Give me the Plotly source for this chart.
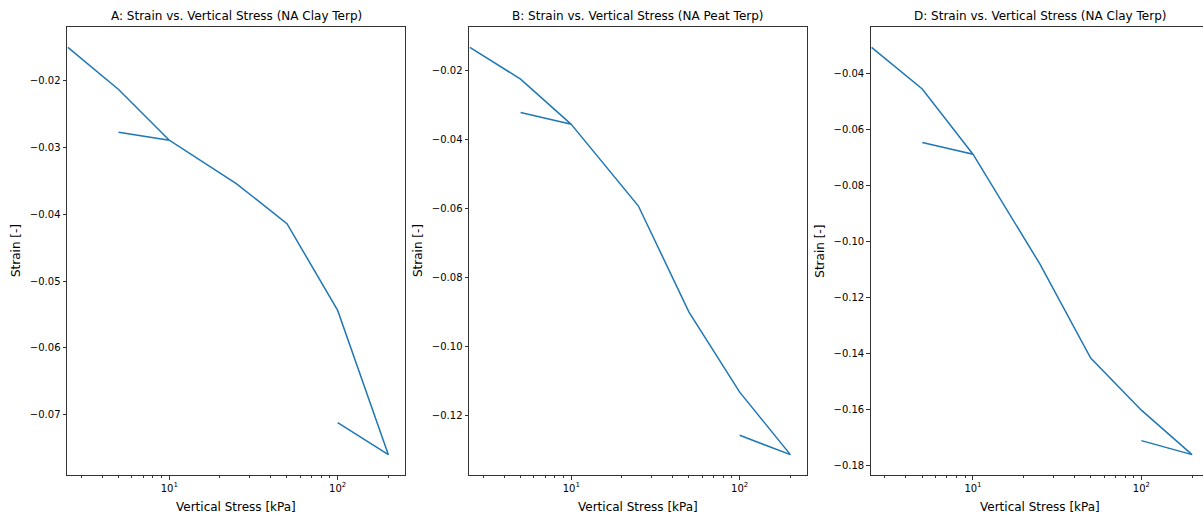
import math
import plotly.graph_objects as go

# ---- data ----
stress = [2.5, 5, 10, 5, 10, 25, 50, 100, 200, 100]  # kPa: load, unload/reload, load, unload

strain_A = [-0.0150, -0.0213, -0.0289, -0.0277, -0.0289, -0.0354, -0.0414, -0.0544, -0.0760, -0.0712]
strain_B = [-0.0133, -0.0225, -0.0356, -0.0322, -0.0356, -0.0592, -0.0900, -0.1132, -0.1313, -0.1257]
strain_D = [-0.0305, -0.0454, -0.0687, -0.0645, -0.0687, -0.1080, -0.1416, -0.1602, -0.1761, -0.1711]

titles = [
    "A: Strain vs. Vertical Stress (NA Clay Terp)",
    "B: Strain vs. Vertical Stress (NA Peat Terp)",
    "D: Strain vs. Vertical Stress (NA Clay Terp)",
]
series = [strain_A, strain_B, strain_D]
y_dticks = [0.01, 0.02, 0.02]

major_ticks = [10, 100]
major_text = ["10<sup>1</sup>", "10<sup>2</sup>"]
minor_ticks = [3, 4, 5, 6, 7, 8, 9, 20, 30, 40, 50, 60, 70, 80, 90, 200]

# ---- layout geometry (pixels) ----
W, H = 1203, 515
left_px = [67, 469, 870.7]
panel_w = 338
top_px, bot_px = 27, 475
px_per_decade = 168.4
x_lo = math.log10(2.47)

FONT = "DejaVu Sans"
BLUE = "#1f77b4"
AX = "#333333"

fig = go.Figure()
annotations = []
for i, (ys, title, dt) in enumerate(zip(series, titles, y_dticks)):
    n = "" if i == 0 else str(i + 1)
    x0 = left_px[i]
    x1 = min(x0 + panel_w, W)
    dom = [x0 / W, x1 / W]
    x_hi = x_lo + (x1 - x0) / px_per_decade
    ymin, ymax = min(ys), max(ys)
    span = ymax - ymin
    yr = [ymin - 0.05 * span, ymax + 0.05 * span]

    fig.add_trace(go.Scatter(
        x=stress, y=ys, mode="lines",
        line=dict(color=BLUE, width=1.5),
        xaxis="x" + n, yaxis="y" + n, showlegend=False,
    ))

    fig.update_layout(**{
        "xaxis" + n: dict(
            type="log", domain=dom, range=[x_lo, x_hi], anchor="y" + n,
            tickvals=major_ticks, ticktext=major_text,
            ticks="outside", ticklen=3.5, tickwidth=1, tickcolor=AX,
            minor=dict(tickvals=minor_ticks, ticks="outside", ticklen=2,
                       tickwidth=0.8, tickcolor=AX, showgrid=False),
            showgrid=False, zeroline=False,
            showline=True, mirror=True, linecolor=AX, linewidth=1,
            tickfont=dict(family=FONT, size=10, color="#000"),
        ),
        "yaxis" + n: dict(
            domain=[1 - bot_px / H, 1 - top_px / H], range=yr, anchor="x" + n,
            tick0=0, dtick=dt, tickformat=".2f",
            ticks="outside", ticklen=3.5, tickwidth=1, tickcolor=AX,
            showgrid=False, zeroline=False,
            showline=True, mirror=True, linecolor=AX, linewidth=1,
            tickfont=dict(family=FONT, size=10, color="#000"),
        ),
    })

    cx = (x0 + panel_w / 2) / W
    annotations.append(dict(
        text=title, x=cx, y=1 - 16 / H, xref="paper", yref="paper",
        xanchor="center", yanchor="middle", showarrow=False,
        font=dict(family=FONT, size=12, color="#000"),
    ))
    annotations.append(dict(
        text="Vertical Stress [kPa]", x=cx, y=1 - 507 / H, xref="paper", yref="paper",
        xanchor="center", yanchor="middle", showarrow=False,
        font=dict(family=FONT, size=12, color="#000"),
    ))
    annotations.append(dict(
        text="Strain [-]", x=(x0 - 51) / W, y=1 - ((top_px + bot_px) / 2) / H,
        xref="paper", yref="paper", xanchor="center", yanchor="middle",
        textangle=-90, showarrow=False,
        font=dict(family=FONT, size=12, color="#000"),
    ))

fig.update_layout(
    width=W, height=H,
    margin=dict(l=0, r=0, t=0, b=0),
    paper_bgcolor="white", plot_bgcolor="white",
    annotations=annotations,
)

fig.write_html("out.html")
